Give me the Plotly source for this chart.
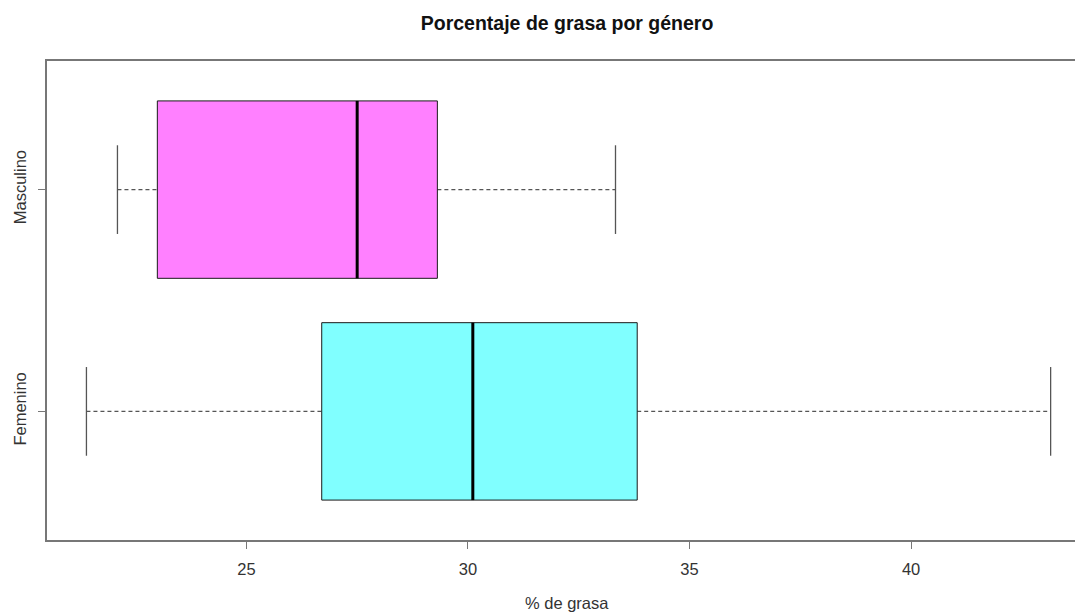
import plotly.graph_objects as go

# Data
groups = ["Femenino", "Masculino"]
group_pos = [1, 2]
whisker_low = [21.39, 22.09]
q1 = [26.70, 22.99]
median = [30.11, 27.50]
q3 = [33.82, 29.31]
whisker_high = [43.15, 33.33]
fill_colors = ["#80FFFF", "#FF80FF"]
x_ticks = [25, 30, 35, 40]

box_half = 0.4
staple_half = 0.2
line_gray = "#555555"

fig = go.Figure()
for i, g in enumerate(groups):
    y = group_pos[i]
    # whiskers (dashed)
    fig.add_trace(go.Scatter(
        x=[whisker_low[i], q1[i], None, q3[i], whisker_high[i]],
        y=[y, y, None, y, y], mode="lines",
        line=dict(color=line_gray, width=1.2, dash="4px,3px"),
        hoverinfo="skip", showlegend=False))
    # staples
    fig.add_trace(go.Scatter(
        x=[whisker_low[i], whisker_low[i], None, whisker_high[i], whisker_high[i]],
        y=[y - staple_half, y + staple_half, None, y - staple_half, y + staple_half],
        mode="lines", line=dict(color=line_gray, width=1.3),
        hoverinfo="skip", showlegend=False))
    # box
    fig.add_trace(go.Scatter(
        x=[q1[i], q3[i], q3[i], q1[i], q1[i]],
        y=[y - box_half, y - box_half, y + box_half, y + box_half, y - box_half],
        mode="lines", fill="toself", fillcolor=fill_colors[i],
        line=dict(color="#1a1a1a", width=1),
        name=g, showlegend=False))
    # median
    fig.add_trace(go.Scatter(
        x=[median[i], median[i]], y=[y - box_half, y + box_half],
        mode="lines", line=dict(color="#000000", width=3),
        hoverinfo="skip", showlegend=False))

font_family = "Liberation Sans, Arial, sans-serif"

fig.update_layout(
    width=1075, height=615,
    margin=dict(l=47, r=0, t=61, b=75, autoexpand=False),
    paper_bgcolor="white", plot_bgcolor="white",
    font=dict(family=font_family, size=16.5, color="#333333"),
    title=dict(text="<b>Porcentaje de grasa por género</b>",
               font=dict(family=font_family, size=19.5, color="#111111"),
               xref="container", x=0.5275, xanchor="center",
               yref="container", y=1 - 23 / 615, yanchor="middle"),
    xaxis=dict(range=[20.50, 43.70], tickvals=x_ticks,
               ticktext=[str(t) for t in x_ticks],
               automargin=False,
               showgrid=False, zeroline=False,
               showline=True, linecolor="#777777", linewidth=1.5, mirror=True,
               ticks="outside", ticklen=7, tickcolor="#777777", tickwidth=1.3,
               ticklabelstandoff=6),
    yaxis=dict(range=[0.42, 2.58], tickvals=group_pos, ticktext=groups,
               tickangle=-90, automargin=False,
               showgrid=False, zeroline=False,
               showline=True, linecolor="#777777", linewidth=1.5, mirror=False,
               ticks="outside", ticklen=7, tickcolor="#777777", tickwidth=1.3,
               ticklabelstandoff=6),
    annotations=[dict(text="% de grasa", xref="paper", x=(567 - 47) / (1075 - 47),
                      xanchor="center", yref="paper",
                      y=-(603 - 540) / (540 - 61), yanchor="middle",
                      showarrow=False, font=dict(size=16.5, color="#333333"))],
)

fig.write_html(
    "out.html",
    config={"displayModeBar": False},
    post_script="document.body.style.margin='0';document.body.style.overflow='hidden';",
)
